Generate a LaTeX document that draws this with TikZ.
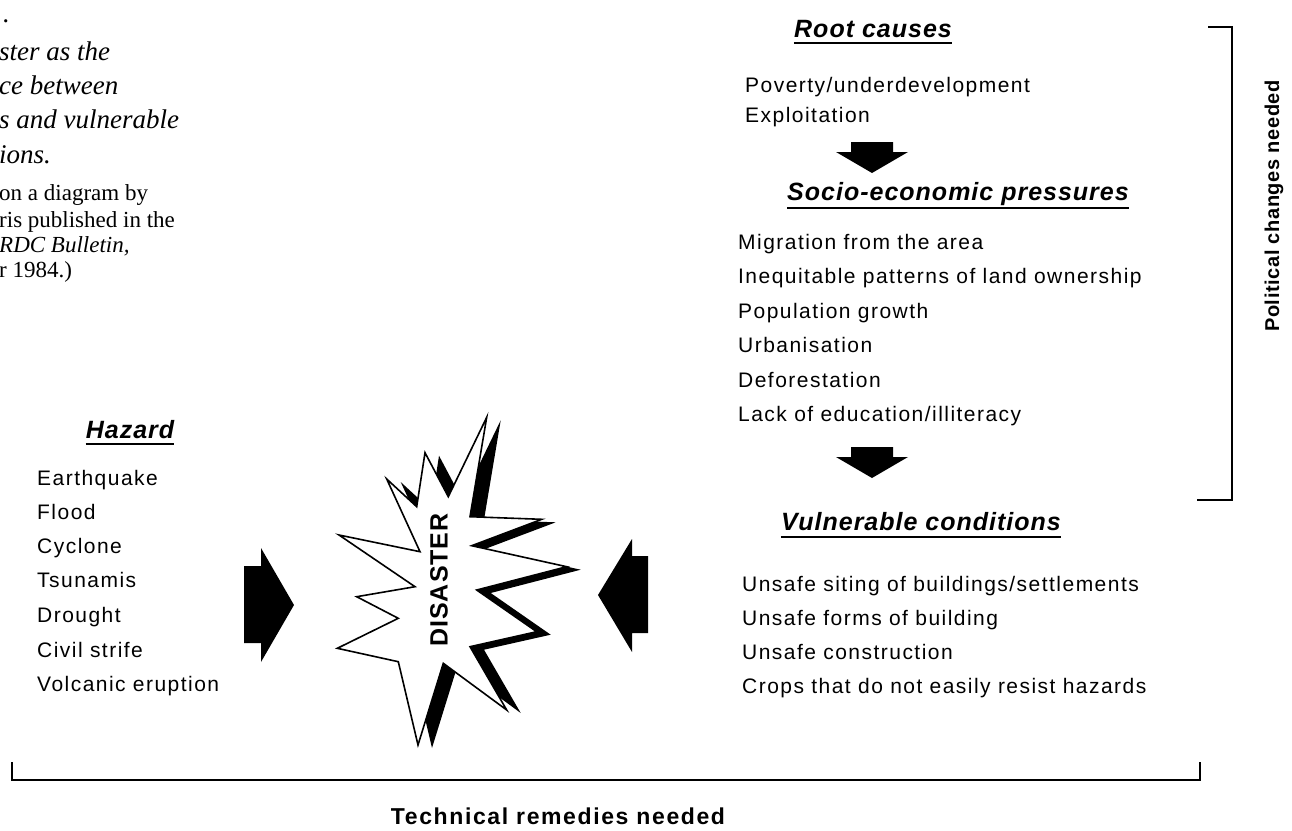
\documentclass[tikz,border=0pt]{standalone}
\usepackage{fontspec}
\setmainfont{Liberation Serif}
\setsansfont{Liberation Sans}[LetterSpace=7]
\newfontfamily\headsans{Liberation Sans}[LetterSpace=4]
\newfontfamily\boldsans{Liberation Sans}[LetterSpace=7]
\newfontfamily\polsans{Liberation Sans}[LetterSpace=3]
\begin{document}
\begin{tikzpicture}[x=1pt,y=-1pt,
  lst/.style={anchor=base west,inner sep=0pt,font=\sffamily\fontsize{21}{24}\selectfont},
  head/.style={anchor=base,inner sep=0pt,font=\headsans\bfseries\itshape\fontsize{25}{28}\selectfont},
  captxt/.style={anchor=base west,inner sep=0pt,font=\rmfamily\itshape\fontsize{27}{30}\selectfont},
  capsm/.style={anchor=base west,inner sep=0pt,font=\rmfamily\fontsize{23}{26}\selectfont},
  uline/.style={line width=2pt},
  blk/.style={fill=black,draw=none},
  brk/.style={line width=2pt},
  lbl/.style={inner sep=0pt,anchor=base,font=\boldsans\bfseries\fontsize{23}{26}\selectfont}]
\useasboundingbox (0,0) rectangle (1292,830);
\fill[white] (0,0) rectangle (1292,830);

% caption (cut at left edge)
\node[captxt] (c0) at (3,22) {.};
\node[captxt] (c1) at (-1,60) {ster as the};
\node[captxt] (c2) at (-1,94) {ce between};
\node[captxt] (c3) at (-1,128) {s and vulnerable};
\node[captxt] (c4) at (-1,163) {ions.};
\node[capsm] (c5) at (-1,200) {on a diagram by};
\node[capsm] (c6) at (-1,227) {ris published in the};
\node[capsm] (c7) at (-1,252) {\itshape RDC Bulletin,};
\node[capsm] (c8) at (-1,277) {r 1984.)};

% root causes
\node[head] (h1) at (873,37) {Root causes};
\draw[uline] ([yshift=-6pt]h1.base west) -- ([yshift=-6pt]h1.base east);
\node[lst] (r1) at (745,92) {Poverty/underdevelopment};
\node[lst] (r2) at (745,122) {Exploitation};

% arrow 1
\path[blk] (851,142) -- (893,142) -- (893,152) -- (908,152) -- (872,173) -- (836,152) -- (851,152) -- cycle;

% socio-economic
\node[head] (h2) at (958,200) {Socio-economic pressures};
\draw[uline] ([yshift=-8pt]h2.base west) -- ([yshift=-8pt]h2.base east);
\node[lst] (s1) at (738,249) {Migration from the area};
\node[lst] (s2) at (738,283) {Inequitable patterns of land ownership};
\node[lst] (s3) at (738,318) {Population growth};
\node[lst] (s4) at (738,352) {Urbanisation};
\node[lst] (s5) at (738,387) {Deforestation};
\node[lst] (s6) at (738,421) {Lack of education/illiteracy};

% arrow 2
\path[blk] (851,447) -- (893,447) -- (893,457) -- (908,457) -- (872,478) -- (836,457) -- (851,457) -- cycle;

% vulnerable
\node[head] (h3) at (921,530) {Vulnerable conditions};
\draw[uline] ([yshift=-7pt]h3.base west) -- ([yshift=-7pt]h3.base east);
\node[lst] (v1) at (742,591) {Unsafe siting of buildings/settlements};
\node[lst] (v2) at (742,625) {Unsafe forms of building};
\node[lst] (v3) at (742,659) {Unsafe construction};
\node[lst] (v4) at (742,693) {Crops that do not easily resist hazards};

% hazard
\node[head] (h4) at (130,438) {Hazard};
\draw[uline] ([yshift=-6pt]h4.base west) -- ([yshift=-6pt]h4.base east);
\node[lst] (z1) at (37,485) {Earthquake};
\node[lst] (z2) at (37,519) {Flood};
\node[lst] (z3) at (37,553) {Cyclone};
\node[lst] (z4) at (37,587) {Tsunamis};
\node[lst] (z5) at (37,622) {Drought};
\node[lst] (z6) at (37,657) {Civil strife};
\node[lst] (z7) at (37,691) {Volcanic eruption};

% side arrows
\path[blk] (244,566) -- (261,566) -- (261,548) -- (294,605) -- (261,662) -- (261,643) -- (244,643) -- cycle;
\path[blk] (648,556) -- (632,556) -- (632,539) -- (598,595) -- (632,652) -- (632,633) -- (648,633) -- cycle;

% starburst
\def\starpath{(386.7,479) -- (416.7,506.7) -- (425,452.7) -- (448.3,496.7) -- (486.7,417.3) -- (470,516.7) -- (541.7,519.3) -- (471.7,545.7) -- (566.7,566.7) -- (476.7,590) -- (536.7,631.7) -- (470,646.7) -- (506.7,710) -- (443.3,663.3) -- (418,745) -- (398.3,661.7) -- (337.3,648.3) -- (398.3,618.3) -- (356.7,596.7) -- (415,586.7) -- (339,535) -- (420,551.7) -- cycle}
\fill[black,shift={(14,3)}] \starpath;
\draw[fill=white,line width=1.6pt,line join=miter] \starpath;
\node[inner sep=0pt,rotate=90,font=\headsans\bfseries\fontsize{25}{28}\selectfont] (dis) at (439,580) {DISASTER};

% brackets
\draw[brk] (1208,27) -- (1232,27) -- (1232,500) -- (1197,500);
\node[inner sep=0pt,rotate=90,anchor=base east,font=\polsans\bfseries\fontsize{20}{24}\selectfont] (pol) at (1279,80) {Political changes needed};
\draw[brk] (12,762) -- (12,780) -- (1200,780) -- (1200,762);
\node[lbl] (tech) at (558,824) {Technical remedies needed};
\end{tikzpicture}
\end{document}
